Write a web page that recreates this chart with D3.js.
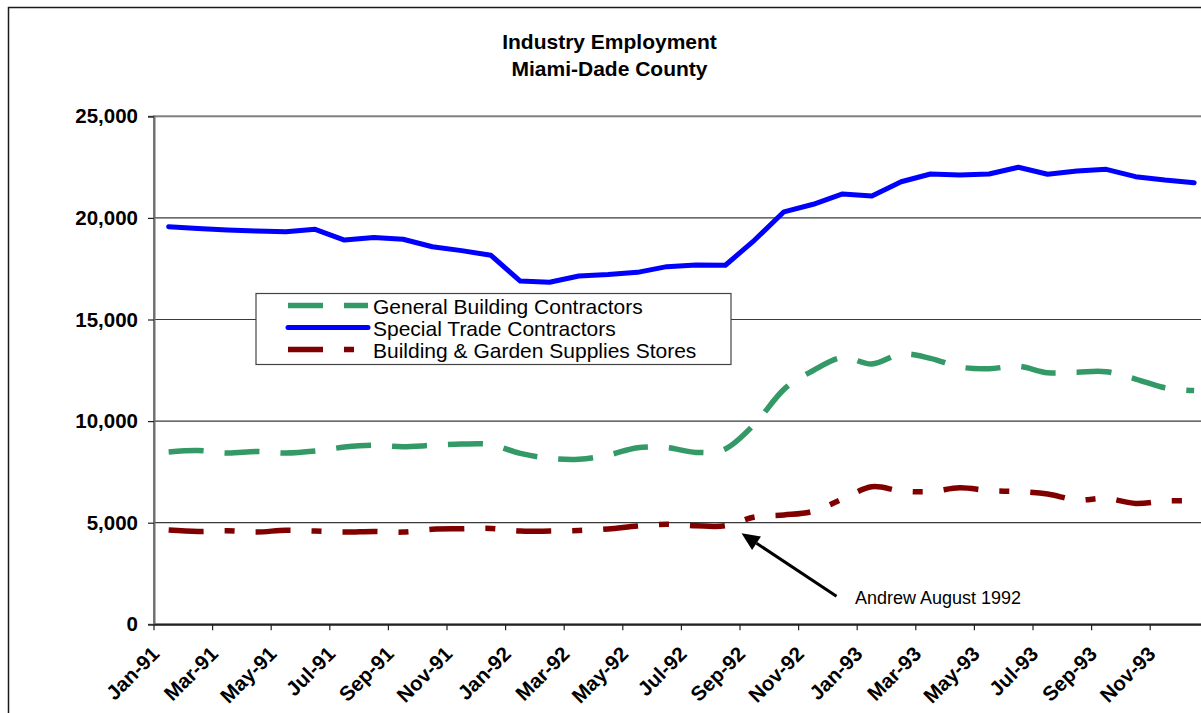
<!DOCTYPE html>
<html>
<head>
<meta charset="utf-8">
<script src="https://cdn.jsdelivr.net/npm/d3@7"></script>
<style>
  body { margin: 0; background: #fff; }
  svg { display: block; }
  text { font-family: Arial, "Liberation Sans", sans-serif; fill: #000; }
</style>
</head>
<body>
<svg id="chart" width="1201" height="713"></svg>
<script>
// Monthly categories, Jan 1991 - Dec 1993
const months = [
  "Jan-91","Feb-91","Mar-91","Apr-91","May-91","Jun-91","Jul-91","Aug-91","Sep-91","Oct-91","Nov-91","Dec-91",
  "Jan-92","Feb-92","Mar-92","Apr-92","May-92","Jun-92","Jul-92","Aug-92","Sep-92","Oct-92","Nov-92","Dec-92",
  "Jan-93","Feb-93","Mar-93","Apr-93","May-93","Jun-93","Jul-93","Aug-93","Sep-93","Oct-93","Nov-93","Dec-93"
];

// Labelled months on the category axis
const tickLabels = [
  "Jan-91","Mar-91","May-91","Jul-91","Sep-91","Nov-91",
  "Jan-92","Mar-92","May-92","Jul-92","Sep-92","Nov-92",
  "Jan-93","Mar-93","May-93","Jul-93","Sep-93","Nov-93"
];

const yTicks = [0, 5000, 10000, 15000, 20000, 25000];

// Employment by industry
const generalBuilding = [
  8480, 8550, 8430, 8500, 8430, 8530, 8720, 8810, 8740, 8810, 8870, 8840,
  8410, 8170, 8120, 8330, 8690, 8700, 8460, 8630, 9860, 11560, 12490, 13130,
  12810, 13300, 13090, 12660, 12580, 12700, 12380, 12410, 12430, 12070, 11640, 11500
];
const specialTrade = [
  19570, 19480, 19400, 19350, 19320, 19440, 18910, 19040, 18950, 18580, 18390, 18160,
  16890, 16830, 17140, 17210, 17320, 17600, 17680, 17670, 18910, 20300, 20670, 21180,
  21080, 21780, 22160, 22110, 22160, 22490, 22150, 22310, 22390, 22030, 21860, 21730
];
const gardenSupplies = [
  4640, 4570, 4600, 4540, 4630, 4590, 4540, 4570, 4540, 4680, 4700, 4720,
  4590, 4590, 4620, 4690, 4840, 4920, 4850, 4850, 5280, 5380, 5560, 6170,
  6770, 6560, 6530, 6720, 6580, 6530, 6410, 6120, 6200, 5950, 6070, 6080
];

const seriesNames = [
  "General Building Contractors",
  "Special Trade Contractors",
  "Building & Garden Supplies Stores"
];

const svg = d3.select("#chart");

const plot = { left: 154, top: 116.3, bottom: 624.3, step: 29.3 };
plot.right = plot.left + plot.step * months.length;

const x = d3.scaleBand().domain(months).range([plot.left, plot.right]).padding(0);
const y = d3.scaleLinear().domain([0, 25000]).range([plot.bottom, plot.top]);
const bw = x.bandwidth();
const cx = m => x(m) + bw / 2;

// Outer chart frame
svg.append("rect")
  .attr("x", 8.5).attr("y", 7.5)
  .attr("width", 1400).attr("height", 900)
  .attr("fill", "none").attr("stroke", "#1a1a1a").attr("stroke-width", 1.5);

// Title
const title = svg.append("text")
  .attr("text-anchor", "middle")
  .attr("font-weight", "bold")
  .attr("font-size", 21);
title.append("tspan").attr("x", 609.5).attr("y", 49).text("Industry Employment");
title.append("tspan").attr("x", 609.5).attr("y", 76).text("Miami-Dade County");

// Horizontal gridlines
svg.append("g")
  .selectAll("line")
  .data(yTicks.filter(v => v > 0 && v < 25000))
  .join("line")
  .attr("x1", plot.left).attr("x2", plot.right)
  .attr("y1", d => y(d)).attr("y2", d => y(d))
  .attr("stroke", "#3a3a3a").attr("stroke-width", 1.2);

// Plot area border (top and left visible)
svg.append("rect")
  .attr("x", plot.left).attr("y", plot.top)
  .attr("width", plot.right - plot.left).attr("height", plot.bottom - plot.top)
  .attr("fill", "none").attr("stroke", "#808080").attr("stroke-width", 2);

// Y axis
const yAxis = svg.append("g")
  .attr("transform", `translate(${plot.left},0)`)
  .call(d3.axisLeft(y).tickValues(yTicks).tickFormat(d3.format(",")).tickSize(6).tickPadding(10));
yAxis.select(".domain").attr("stroke", "#6e6e6e").attr("stroke-width", 2);
yAxis.selectAll(".tick line").attr("stroke", "#222").attr("stroke-width", 1.2);
yAxis.selectAll(".tick text")
  .attr("font-size", 20.5).attr("font-weight", "bold")
  .attr("font-family", "Arial, 'Liberation Sans', sans-serif")
  .attr("fill", "#000");

// X axis: tick marks sit on category boundaries, labels run diagonally
const xAxis = svg.append("g")
  .attr("transform", `translate(0,${plot.bottom})`)
  .call(d3.axisBottom(x).tickValues(tickLabels).tickSize(6).tickSizeOuter(0));
xAxis.select(".domain").attr("stroke", "#222").attr("stroke-width", 2);
xAxis.selectAll(".tick line")
  .attr("transform", `translate(${-bw / 2},0)`)
  .attr("stroke", "#222").attr("stroke-width", 1.2);
xAxis.selectAll(".tick text")
  .attr("font-size", 20.5).attr("font-weight", "bold")
  .attr("font-family", "Arial, 'Liberation Sans', sans-serif")
  .attr("fill", "#000")
  .attr("text-anchor", "end")
  .attr("dy", null).attr("y", null)
  .attr("transform", "translate(-8,31) rotate(-45)");

// Series lines
const idx = d3.range(months.length);
const straight = d3.line().x(i => cx(months[i])).curve(d3.curveLinear);
const smooth = d3.line().x(i => cx(months[i])).curve(d3.curveCardinal.tension(0));

const greenColor = "#339966", blueColor = "#0000ff", redColor = "#800000";
const greenDash = "35,21", redDash = "35,21,10,21";

svg.append("path")
  .attr("d", smooth.y(i => y(generalBuilding[i]))(idx))
  .attr("fill", "none").attr("stroke", greenColor).attr("stroke-width", 5.5)
  .attr("stroke-dasharray", greenDash);

svg.append("path")
  .attr("d", smooth.y(i => y(gardenSupplies[i]))(idx))
  .attr("fill", "none").attr("stroke", redColor).attr("stroke-width", 5.5)
  .attr("stroke-dasharray", redDash);

svg.append("path")
  .attr("d", straight.y(i => y(specialTrade[i]))(idx))
  .attr("fill", "none").attr("stroke", blueColor).attr("stroke-width", 5)
  .attr("stroke-linejoin", "round").attr("stroke-linecap", "round");

// Legend
const legend = svg.append("g");
legend.append("rect")
  .attr("x", 256).attr("y", 293.5).attr("width", 475).attr("height", 71)
  .attr("fill", "#fff").attr("stroke", "#444").attr("stroke-width", 1.2);
const legendItems = [
  { name: seriesNames[0], color: greenColor, dash: greenDash, width: 5.5, cap: "butt" },
  { name: seriesNames[1], color: blueColor, dash: null, width: 5, cap: "round" },
  { name: seriesNames[2], color: redColor, dash: redDash, width: 5.5, cap: "butt" }
];
legendItems.forEach((d, k) => {
  const ly = 305.5 + k * 22;
  legend.append("line")
    .attr("x1", 288).attr("x2", 368).attr("y1", ly).attr("y2", ly)
    .attr("stroke", d.color).attr("stroke-width", d.width)
    .attr("stroke-linecap", d.cap)
    .attr("stroke-dasharray", d.dash);
  legend.append("text")
    .attr("x", 373).attr("y", ly + 8.5)
    .attr("font-size", 21)
    .text(d.name);
});

// Hurricane Andrew annotation
const tipX = x("Sep-92") + 1.5, tipY = y(4480);
const tailX = tipX + 95, tailY = tipY + 63;
const ang = Math.atan2(tipY - tailY, tipX - tailX);
const headLen = 18, headHalf = 8;
const baseX = tipX - headLen * Math.cos(ang), baseY = tipY - headLen * Math.sin(ang);
svg.append("line")
  .attr("x1", tailX).attr("y1", tailY).attr("x2", baseX).attr("y2", baseY)
  .attr("stroke", "#000").attr("stroke-width", 3);
svg.append("polygon")
  .attr("points", [
    [tipX, tipY],
    [baseX + headHalf * Math.sin(ang), baseY - headHalf * Math.cos(ang)],
    [baseX - headHalf * Math.sin(ang), baseY + headHalf * Math.cos(ang)]
  ].map(p => p.join(",")).join(" "))
  .attr("fill", "#000");
svg.append("text")
  .attr("x", 855).attr("y", 604)
  .attr("font-size", 18)
  .text("Andrew August 1992");
</script>
</body>
</html>
